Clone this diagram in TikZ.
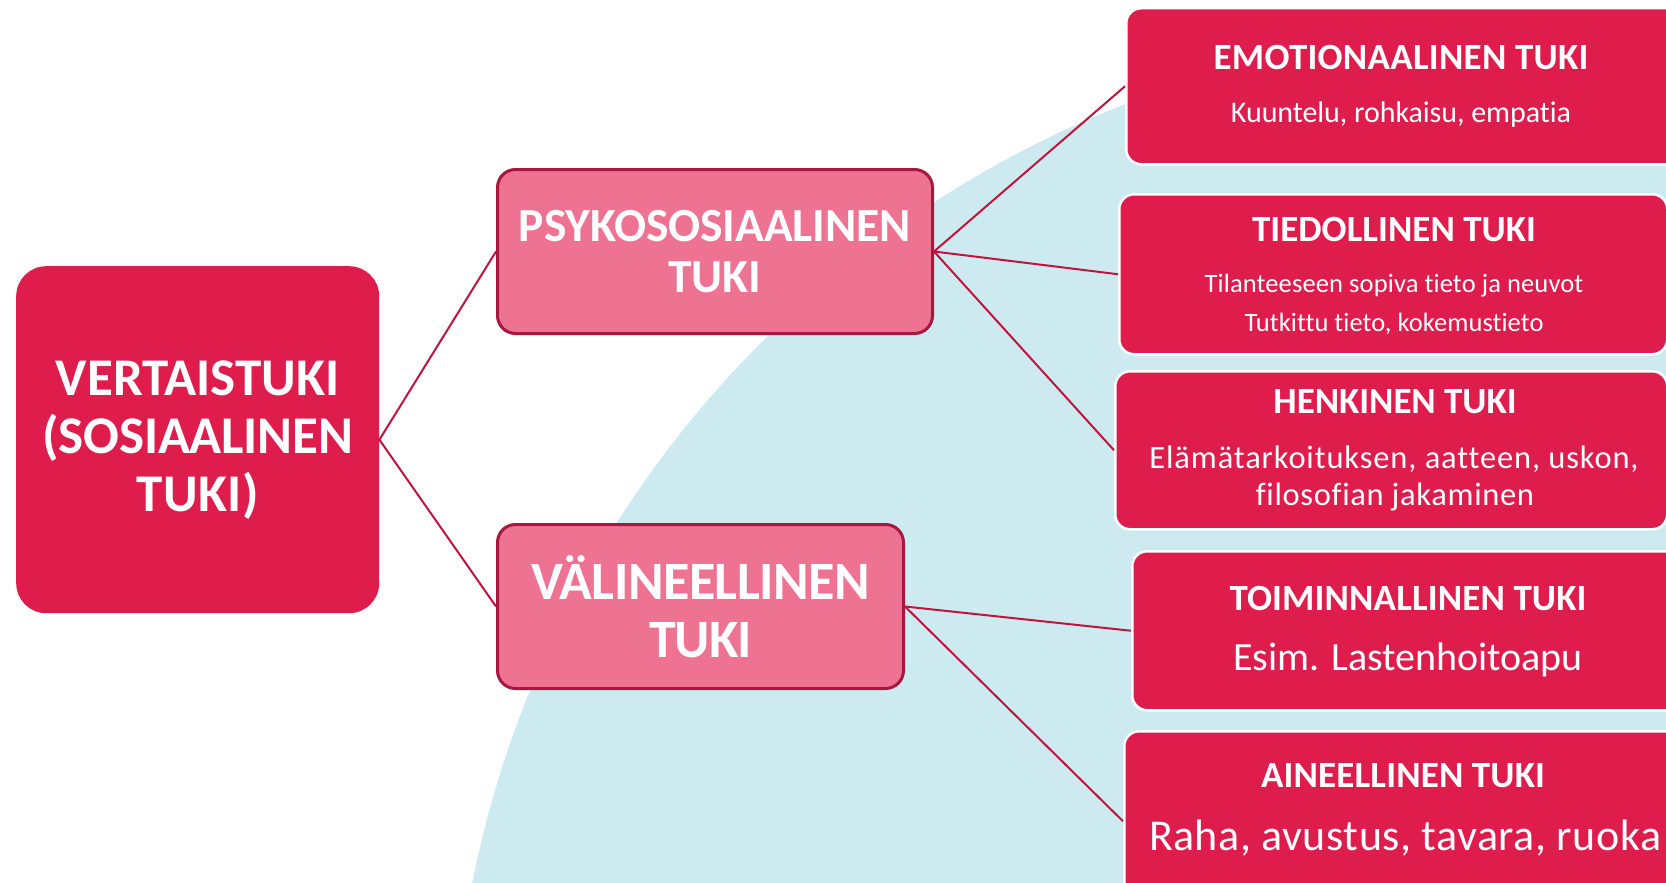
\documentclass[tikz,border=0pt]{standalone}
\usepackage{fontspec}
\setmainfont{Carlito}[Ligatures={NoCommon}]
\definecolor{crim}{HTML}{DE1D4C}
\definecolor{pinkfill}{HTML}{EE7393}
\definecolor{pinkborder}{HTML}{A8173E}
\definecolor{linkcol}{HTML}{C0143C}
\definecolor{bgblue}{HTML}{CEEAF1}
\newlength\natw
\makeatletter
% #1 target width in px, #2 number of glyphs, #3 text
\newcommand\fitto[3]{\begingroup\settowidth\natw{#3}%
  \pgfmathsetmacro\lsv{((#1)-\the\natw)/(#2)/\f@size*100}%
  \addfontfeatures{LetterSpace=\lsv}#3\endgroup}
\makeatother
\tikzset{
  rootbox/.style={rectangle, rounded corners=30pt, fill=crim, text=white, align=center,
    inner sep=0pt, anchor=north west, font=\bfseries\fontsize{53}{58}\selectfont},
  midbox/.style={rectangle, rounded corners=18pt, fill=pinkfill, draw=pinkborder, line width=3pt,
    text=white, align=center, inner sep=0pt, anchor=north west},
  leafbox/.style={rectangle, rounded corners=15pt, fill=crim, draw=white, line width=2.5pt,
    inner sep=0pt, anchor=north west},
  leaftitle/.style={text=white, inner sep=0pt, anchor=base, font=\bfseries\fontsize{37}{40}\selectfont},
  leaftext/.style={text=white, inner sep=0pt, anchor=base},
  link/.style={draw=linkcol, line width=2pt}
}
\begin{document}
\begin{tikzpicture}[x=1pt,y=-1pt]
\useasboundingbox (0,0) rectangle (1666,883);
\clip (0,0) rectangle (1666,883);
\fill[white] (0,0) rectangle (1666,883);
\fill[bgblue] (1510,1090) circle[radius=1058];

\node[rootbox, minimum width=363pt, minimum height=347pt] (root) at (16,266)
  {\fitto{284}{11}{VERTAISTUKI}\\\fitto{310}{12}{(SOSIAALINEN}\\\fitto{122}{5}{TUKI)}};
\node[midbox, minimum width=435pt, minimum height=164pt,
  font=\bfseries\fontsize{47.5}{51}\selectfont] (psy) at (496,168)
  {\fitto{392}{16}{PSYKOSOSIAALINEN}\\\fitto{93}{4}{TUKI}};
\node[midbox, minimum width=406pt, minimum height=164pt,
  font=\bfseries\fontsize{54}{58}\selectfont] (val) at (496,523)
  {\fitto{338}{13}{VÄLINEELLINEN}\\\fitto{102}{4}{TUKI}};

\node[leafbox, minimum width=575pt, minimum height=156pt] (emo) at (1125,7) {};
\node[leafbox, minimum width=548pt, minimum height=160pt] (tie) at (1118,193) {};
\node[leafbox, minimum width=552pt, minimum height=158pt] (hen) at (1114,370) {};
\node[leafbox, minimum width=569pt, minimum height=159pt] (toi) at (1131,550) {};
\node[leafbox, minimum width=577pt, minimum height=180pt] (ain) at (1123,730) {};

\node[leaftitle] (emoT) at (1401,70) {\fitto{375}{18}{EMOTIONAALINEN TUKI}};
\node[leaftext, font=\fontsize{30}{34}\selectfont] (emoS) at (1401,122) {\fitto{340}{25}{Kuuntelu, rohkaisu, empatia}};
\node[leaftitle] (tieT) at (1394,241) {\fitto{284}{15}{TIEDOLLINEN TUKI}};
\node[leaftext, font=\fontsize{26.5}{30}\selectfont] (tieS1) at (1394,292) {\fitto{379}{31}{Tilanteeseen sopiva tieto ja neuvot}};
\node[leaftext, font=\fontsize{26.5}{30}\selectfont] (tieS2) at (1394,331) {\fitto{299}{26}{Tutkittu tieto, kokemustieto}};
\node[leaftitle] (henT) at (1395,413) {\fitto{243}{12}{HENKINEN TUKI}};
\node[leaftext, font=\fontsize{32.5}{36}\selectfont] (henS1) at (1394,468) {\fitto{490}{32}{Elämätarkoituksen, aatteen, uskon,}};
\node[leaftext, font=\fontsize{32.5}{36}\selectfont] (henS2) at (1395,505) {\fitto{279}{19}{filosofian jakaminen}};
\node[leaftitle] (toiT) at (1408,610) {\fitto{357}{18}{TOIMINNALLINEN TUKI}};
\node[leaftext, font=\fontsize{40}{44}\selectfont] (toiS) at (1408,670) {\fitto{350}{19}{Esim. Lastenhoitoapu}};
\node[leaftitle] (ainT) at (1403,787) {\fitto{284}{15}{AINEELLINEN TUKI}};
\node[leaftext, font=\fontsize{44}{48}\selectfont] (ainS) at (1405,850) {\fitto{512}{24}{Raha, avustus, tavara, ruoka}};

\draw[link] (root.east) -- (psy.west);
\draw[link] (root.east) -- (val.west);
\draw[link] (psy.east) -- (emo.west);
\draw[link] (psy.east) -- (tie.west);
\draw[link] (psy.east) -- (hen.west);
\draw[link] (val.east) -- (toi.west);
\draw[link] (val.east) -- (ain.west);
\end{tikzpicture}
\end{document}
